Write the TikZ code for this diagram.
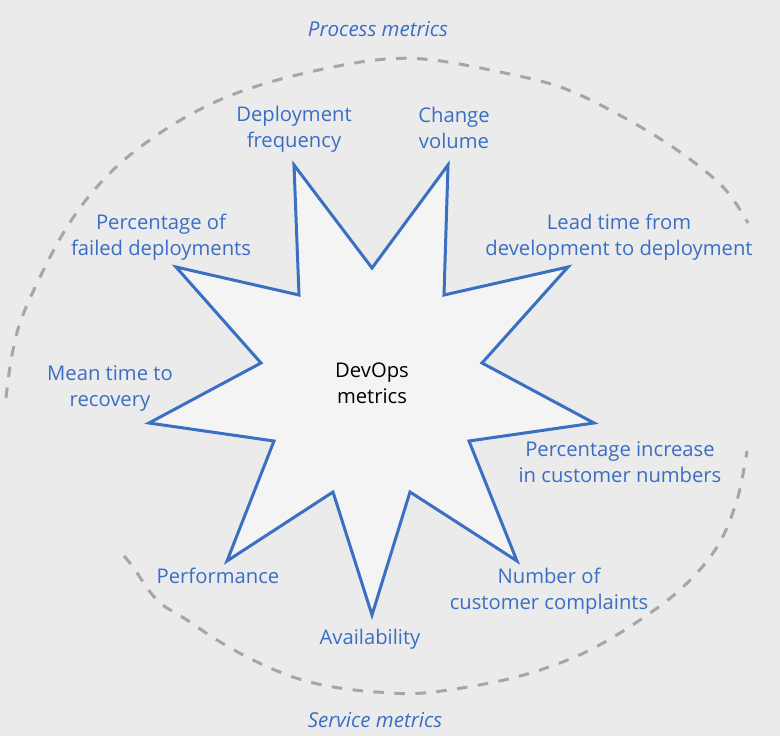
\documentclass[tikz,border=0pt]{standalone}
\usepackage{fontspec}
\setmainfont{Open Sans}
\begin{document}
\begin{tikzpicture}[x=1bp,y=-1bp,
  lbl/.style={text=lblblue,font=\fontsize{20.3}{25.5}\selectfont,align=center,anchor=base,inner sep=0pt},
  grp/.style={text=lblblue,font=\fontsize{20.6}{25.5}\selectfont\itshape,anchor=base,inner sep=0pt},
  ring/.style={draw=ringgray,line width=3bp,dash pattern=on 10.5bp off 10.5bp},
  starline/.style={draw=starblue,line width=3bp,fill=starfill,line join=miter,miter limit=20}]
\definecolor{bg}{HTML}{EBEBEB}
\definecolor{lblblue}{HTML}{3A6EC4}
\definecolor{starblue}{HTML}{3A6FC2}
\definecolor{starfill}{HTML}{F4F4F4}
\definecolor{ringgray}{HTML}{A6A6A6}
\fill[bg] (0,0) rectangle (780,736);
\useasboundingbox (0,0) rectangle (780,736);
% dashed rings
\draw[ring] plot[smooth,tension=0.6] coordinates {(6,398) (13,350) (27,305) (67,227) (110,173) (160,133) (213,103) (267,83) (333,67) (387,59) (433,60) (500,72) (563,88) (623,117) (677,150) (723,187) (748,223)};
\draw[ring] plot[smooth,tension=0.6] coordinates {(124,556) (133,567) (157,600) (187,620) (217,640) (253,660) (293,677) (333,687) (377,692) (423,693) (490,683) (540,670) (590,650) (640,620) (683,587) (717,547) (737,500) (747,451)};
% star
\draw[starline] (294,165) -- (372,268) -- (448,165) -- (444,295) -- (568,267) -- (482,363) -- (594,423) -- (469,441) -- (517,561) -- (410,492) -- (372,615) -- (333,492) -- (227,561) -- (274,441) -- (149,423) -- (261,363) -- (176,267) -- (299,295) -- cycle;
% labels (base anchor = baseline of the last line)
\node[lbl,text=black] (devops) at (372,403) {DevOps\\metrics};
\node[grp] (process) at (378,37) {Process metrics};
\node[grp] (service) at (375,727) {Service metrics};
\node[lbl] (depfreq) at (294,147) {Deployment\\frequency};
\node[lbl] (change) at (454,148) {Change\\volume};
\node[lbl] (failed) at (161,255) {Percentage of\\failed deployments};
\node[lbl] (lead) at (619,255) {Lead time from\\development to deployment};
\node[lbl] (mttr) at (110,406) {Mean time to\\recovery};
\node[lbl] (incr) at (620,482) {Percentage increase\\in customer numbers};
\node[lbl] (perf) at (218,583) {Performance};
\node[lbl] (compl) at (549,609) {Number of\\customer complaints};
\node[lbl] (avail) at (370,644) {Availability};
\end{tikzpicture}
\end{document}
